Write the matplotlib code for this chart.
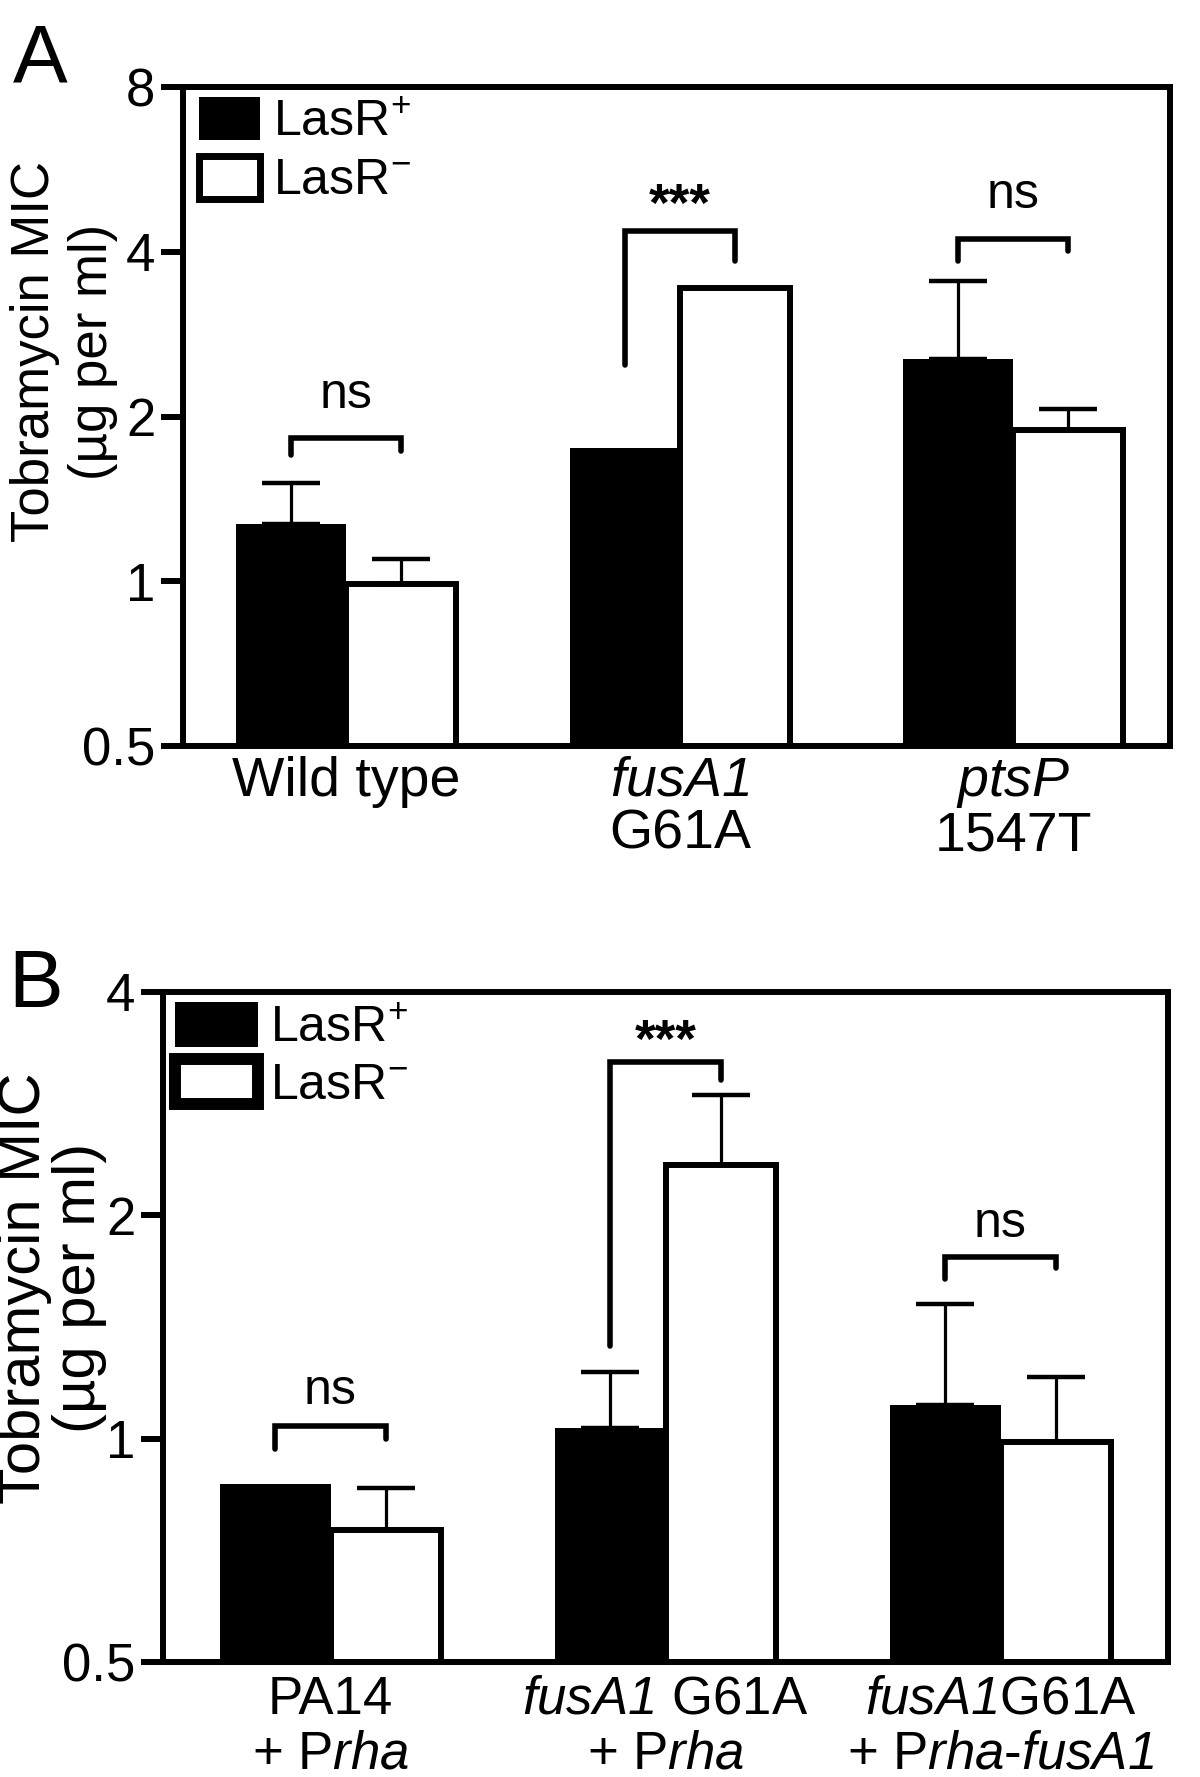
import numpy as np
import matplotlib
matplotlib.use('Agg')
import matplotlib.pyplot as plt
from matplotlib.patches import Patch
from matplotlib.ticker import NullLocator

plt.rcParams['font.family'] = ['Liberation Sans', 'DejaVu Sans']
plt.rcParams['mathtext.fontset'] = 'custom'
# digits inside \mathit fall back to the 'rm' font: make it italic so "fusA1" is fully italic
plt.rcParams['mathtext.rm'] = 'Liberation Sans:italic'
plt.rcParams['mathtext.it'] = 'Liberation Sans:italic'
plt.rcParams['mathtext.bf'] = 'Liberation Sans:bold'
plt.rcParams['mathtext.default'] = 'regular'

# ---------------- data ----------------
legend_labels = ['LasR$^{+}$', 'LasR$^{-}$']

groups_A = ['Wild type', '$\\mathit{fusA1}$\nG61A', '$\\mathit{ptsP}$\n1547T']
plus_A = [1.27, 1.75, 2.55]
plus_A_err = [0.24, 0.0, 0.99]
minus_A = [0.99, 3.44, 1.89]
minus_A_err = [0.11, 0.0, 0.17]
sig_A = ['ns', '***', 'ns']
bracket_A = [[1.70, 1.83, 1.73], [2.48, 4.37, 3.85], [3.85, 4.22, 4.02]]
sig_A_y = [2.07, 4.55, 4.80]
yticks_A = [0.5, 1, 2, 4, 8]
yticklabels_A = ['0.5', '1', '2', '4', '8']

groups_B = ['PA14\n+ P$\\mathit{rha}$',
            '$\\mathit{fusA1}$ G61A\n+ P$\\mathit{rha}$',
            '$\\mathit{fusA1}$G61A\n+ P$\\mathit{rha}$-$\\mathit{fusA1}$']
plus_B = [0.87, 1.035, 1.11]
plus_B_err = [0.0, 0.195, 0.41]
minus_B = [0.754, 2.34, 0.99]
minus_B_err = [0.105, 0.57, 0.22]
sig_B = ['ns', '***', 'ns']
bracket_B = [[0.969, 1.041, 1.0], [1.335, 3.22, 3.04], [1.64, 1.76, 1.70]]
sig_B_y = [1.115, 3.27, 1.87]
yticks_B = [0.5, 1, 2, 4]
yticklabels_B = ['0.5', '1', '2', '4']

ylabel_text = 'Tobramycin MIC\n(\u00b5g per ml)'

# ---------------- drawing ----------------
W = 0.33
LW = 4.3


def panel(ax, groups, plus, plus_err, minus, minus_err, sig, brackets, sig_y,
          yticks, yticklabels, ymax, xlim, xfs, yfs, ylab_fs, ylab_ls, ylab_pos,
          x_ls, x_pad, leg_kw, white_lw):
    x = np.arange(len(groups))
    plus = np.array(plus); minus = np.array(minus)
    plus_err = np.array(plus_err); minus_err = np.array(minus_err)
    ax.set_yscale('log', base=2)
    ax.bar(x - W / 2, plus - 0.5, bottom=0.5, width=W, color='black',
           edgecolor='black', linewidth=0, zorder=2)
    ax.bar(x + W / 2, minus - 0.5, bottom=0.5, width=W, color='white',
           edgecolor='black', linewidth=LW, zorder=2)
    for xs, vals, errs in ((x - W / 2, plus, plus_err), (x + W / 2, minus, minus_err)):
        m = errs > 0
        if m.any():
            ax.errorbar(xs[m], vals[m], yerr=[np.zeros(m.sum()), errs[m]], fmt='none',
                        ecolor='black', elinewidth=2.3, capsize=21, capthick=3.2,
                        zorder=3)
    for i, b in enumerate(brackets):
        ax.plot([x[i] - W / 2, x[i] - W / 2, x[i] + W / 2, x[i] + W / 2],
                [b[0], b[1], b[1], b[2]], color='black', lw=4.0,
                solid_capstyle='round', solid_joinstyle='miter', zorder=4)
        bold = sig[i].startswith('*')
        ax.text(x[i], sig_y[i], sig[i], ha='center', va='baseline',
                fontsize=38 if bold else 36, fontweight='bold' if bold else 'normal',
                zorder=5)
    ax.set_ylim(0.5, ymax)
    ax.set_xlim(*xlim)
    ax.set_yticks(yticks)
    ax.set_yticklabels(yticklabels)
    ax.yaxis.set_minor_locator(NullLocator())
    ax.set_xticks(x)
    ax.set_xticklabels(groups)
    for t in ax.get_xticklabels():
        t.set_linespacing(x_ls)
    ax.tick_params(axis='y', direction='out', length=16, width=LW, labelsize=yfs, pad=4)
    ax.tick_params(axis='x', length=0, labelsize=xfs, pad=x_pad)
    for s in ax.spines.values():
        s.set_linewidth(LW)
    ax.set_ylabel(ylabel_text, fontsize=ylab_fs, linespacing=ylab_ls)
    ax.yaxis.label.set(ha='center', va='center', rotation_mode='default')
    ax.yaxis.set_label_coords(*ylab_pos)
    handles = [Patch(facecolor='black', edgecolor='black', linewidth=0),
               Patch(facecolor='white', edgecolor='black', linewidth=white_lw)]
    ax.legend(handles=handles, labels=legend_labels, loc='upper left', frameon=False,
              fontsize=36, borderpad=0, borderaxespad=0, **leg_kw)


fig = plt.figure(figsize=(12, 17.77), dpi=100)
axA = fig.add_axes([183 / 1200, 1 - 746 / 1777, 987 / 1200, 659 / 1777])
axB = fig.add_axes([163 / 1200, 1 - 1662 / 1777, 1005 / 1200, 670 / 1777])

panel(axA, groups_A, plus_A, plus_A_err, minus_A, minus_A_err, sig_A, bracket_A,
      sig_A_y, yticks_A, yticklabels_A, 8, (-0.49, 2.47), 40, 38, 38, 1.22,
      (-0.1206, 0.598), 1.03, 7,
      dict(bbox_to_anchor=(0.0162, 0.985), handlelength=1.22, handleheight=0.95,
           handletextpad=0.26, labelspacing=0.2), 5)
panel(axB, groups_B, plus_B, plus_B_err, minus_B, minus_B_err, sig_B, bracket_B,
      sig_B_y, yticks_B, yticklabels_B, 4, (-0.5, 2.5), 38, 38, 43, 1.0,
      (-0.1104, 0.558), 1.12, 9,
      dict(bbox_to_anchor=(0.0119, 0.985), handlelength=1.66, handleheight=1.0,
           handletextpad=0.24, labelspacing=0.15), 8.6)

fig.text(13 / 1200, 1 - 82 / 1777, 'A', fontsize=59, ha='left', va='baseline')
fig.text(8 / 1200, 1 - 1007 / 1777, 'B', fontsize=59, ha='left', va='baseline')

fig.savefig('out.png', dpi=100)
